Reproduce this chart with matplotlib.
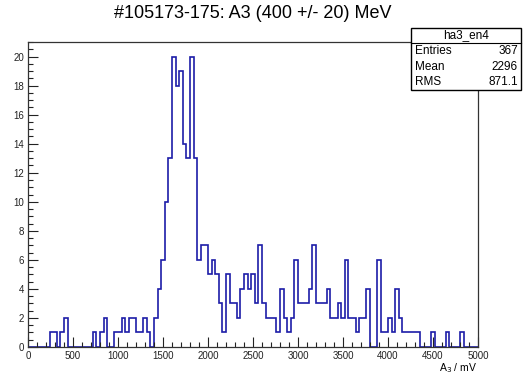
import matplotlib
matplotlib.use("Agg")
from matplotlib import pyplot as plt, patches
from matplotlib.ticker import MultipleLocator
import numpy as np

plt.rcParams['font.family'] = ['Liberation Sans', 'DejaVu Sans']

# 125 bins of 40 mV between 0 and 5000 mV
x_min, x_max, n_bins = 0, 5000, 125
counts = [0, 0, 0, 0, 0, 0, 1, 1, 0, 1,
          2, 0, 0, 0, 0, 0, 0, 0, 1, 0,
          1, 2, 0, 0, 1, 1, 2, 1, 2, 2,
          1, 1, 2, 1, 0, 2, 4, 6, 10, 13,
          20, 18, 19, 14, 13, 20, 13, 6, 7, 7,
          5, 6, 5, 3, 1, 5, 3, 3, 2, 4,
          5, 4, 5, 3, 7, 3, 2, 2, 2, 1,
          4, 2, 1, 2, 6, 3, 3, 3, 4, 7,
          3, 3, 3, 4, 2, 2, 3, 2, 6, 2,
          2, 1, 2, 2, 4, 0, 0, 6, 1, 1,
          2, 1, 4, 2, 1, 1, 1, 1, 1, 0,
          0, 0, 1, 0, 0, 0, 1, 0, 0, 0,
          1, 0, 0, 0, 0]

title = "#105173-175: A3 (400 +/- 20) MeV"
hist_name = "ha3_en4"
stat_names = ["Entries", "Mean", "RMS"]
stat_values = ["367", "2296", "871.1"]

edges = np.linspace(x_min, x_max, n_bins + 1)

fig = plt.figure(figsize=(5.23, 3.76), dpi=100)
ax = fig.add_axes([28/523, 1-347/376, 450/523, 305/376])

ax.stairs(counts, edges, color='#1c1ca8', lw=1.2, baseline=0)

ax.set_xlim(x_min, x_max)
ax.set_ylim(0, 21)
ax.xaxis.set_major_locator(MultipleLocator(500))
ax.xaxis.set_minor_locator(MultipleLocator(100))
ax.yaxis.set_major_locator(MultipleLocator(2))
ax.yaxis.set_minor_locator(MultipleLocator(0.5))
ax.tick_params(which='both', direction='in', top=False, right=False,
               labelsize=7, colors='#222222', width=0.8)
ax.tick_params(which='major', length=7, pad=3)
ax.tick_params(which='minor', length=3.5)
for s in ax.spines.values():
    s.set_color('#333333')
    s.set_linewidth(0.9)

# axis title, ROOT puts it at the right end under the labels
fig.text(477/523, 1-368/376, "A$_3$ / mV", ha='right', va='center', fontsize=7.5)

fig.text(253/523, 1-14/376, title, ha='center', va='center', fontsize=13)

# stats box in ROOT style
bx0, bx1 = 411/523, 521/523
by_top, by_head, by_bot = 1-28/376, 1-43/376, 1-90/376
fig.patches.append(patches.Rectangle((bx0, by_bot), bx1-bx0, by_top-by_bot,
                                     transform=fig.transFigure, fc='white',
                                     ec='black', lw=1.0, zorder=5))
fig.lines.append(plt.Line2D([bx0, bx1], [by_head, by_head],
                            transform=fig.transFigure, color='black', lw=0.8, zorder=6))
fig.text((bx0+bx1)/2, (by_top+by_head)/2, hist_name, ha='center', va='center',
         fontsize=8.5, zorder=7)
row_h = (by_head - by_bot) / 3
for i, (n, v) in enumerate(zip(stat_names, stat_values)):
    yy = by_head - row_h*(i+0.5)
    fig.text(bx0+4/523, yy, n, ha='left', va='center', fontsize=8.5, zorder=7)
    fig.text(bx1-3/523, yy, v, ha='right', va='center', fontsize=8.5, zorder=7)

fig.savefig("out.png", dpi=100)
